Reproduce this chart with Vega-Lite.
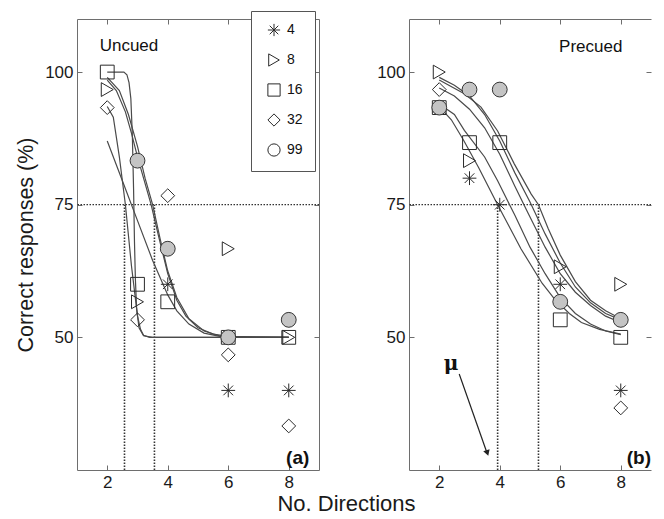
{
  "$schema": "https://vega.github.io/schema/vega-lite/v6.json",
  "background": "white",
  "padding": {"left": 15, "top": 10, "right": 5, "bottom": 2},
  "bounds": "flush",
  "spacing": 90,
  "config": {
    "view": {"stroke": null},
    "font": "Liberation Sans",
    "axis": {
      "labelFont": "Liberation Sans", "labelFontSize": 17, "labelColor": "#1a1a1a",
      "domainColor": "#6e6e6e", "tickColor": "#6e6e6e", "tickSize": -5, "grid": false,
      "labelPadding": 9, "titleFont": "Liberation Sans", "titleFontWeight": "normal",
      "titleColor": "#1a1a1a", "titleFontSize": 22
    }
  },
  "datasets": {
    "pts": [
      {"cond": "Uncued", "n": "4", "dir": 4, "pc": 60}, {"cond": "Uncued", "n": "4", "dir": 6, "pc": 40}, {"cond": "Uncued", "n": "4", "dir": 8, "pc": 40},
      {"cond": "Uncued", "n": "8", "dir": 2, "pc": 96.7}, {"cond": "Uncued", "n": "8", "dir": 3, "pc": 56.7}, {"cond": "Uncued", "n": "8", "dir": 6, "pc": 66.7}, {"cond": "Uncued", "n": "8", "dir": 8, "pc": 50},
      {"cond": "Uncued", "n": "16", "dir": 2, "pc": 100}, {"cond": "Uncued", "n": "16", "dir": 3, "pc": 60}, {"cond": "Uncued", "n": "16", "dir": 4, "pc": 56.7}, {"cond": "Uncued", "n": "16", "dir": 6, "pc": 50}, {"cond": "Uncued", "n": "16", "dir": 8, "pc": 50},
      {"cond": "Uncued", "n": "32", "dir": 2, "pc": 93.3}, {"cond": "Uncued", "n": "32", "dir": 3, "pc": 53.3}, {"cond": "Uncued", "n": "32", "dir": 4, "pc": 76.7}, {"cond": "Uncued", "n": "32", "dir": 6, "pc": 46.7}, {"cond": "Uncued", "n": "32", "dir": 8, "pc": 33.3},
      {"cond": "Uncued", "n": "99", "dir": 3, "pc": 83.3}, {"cond": "Uncued", "n": "99", "dir": 4, "pc": 66.7}, {"cond": "Uncued", "n": "99", "dir": 6, "pc": 50}, {"cond": "Uncued", "n": "99", "dir": 8, "pc": 53.3},
      {"cond": "Precued", "n": "4", "dir": 3, "pc": 80}, {"cond": "Precued", "n": "4", "dir": 4, "pc": 75}, {"cond": "Precued", "n": "4", "dir": 6, "pc": 60}, {"cond": "Precued", "n": "4", "dir": 8, "pc": 40},
      {"cond": "Precued", "n": "8", "dir": 2, "pc": 100}, {"cond": "Precued", "n": "8", "dir": 3, "pc": 83.3}, {"cond": "Precued", "n": "8", "dir": 6, "pc": 63.3}, {"cond": "Precued", "n": "8", "dir": 8, "pc": 60},
      {"cond": "Precued", "n": "16", "dir": 2, "pc": 93.3}, {"cond": "Precued", "n": "16", "dir": 3, "pc": 86.7}, {"cond": "Precued", "n": "16", "dir": 4, "pc": 86.7}, {"cond": "Precued", "n": "16", "dir": 6, "pc": 53.3}, {"cond": "Precued", "n": "16", "dir": 8, "pc": 50},
      {"cond": "Precued", "n": "32", "dir": 2, "pc": 96.7}, {"cond": "Precued", "n": "32", "dir": 8, "pc": 36.7},
      {"cond": "Precued", "n": "99", "dir": 2, "pc": 93.3}, {"cond": "Precued", "n": "99", "dir": 3, "pc": 96.7}, {"cond": "Precued", "n": "99", "dir": 4, "pc": 96.7}, {"cond": "Precued", "n": "99", "dir": 6, "pc": 56.7}, {"cond": "Precued", "n": "99", "dir": 8, "pc": 53.3}
    ],
    "fits": [
      {"cond": "Uncued", "n": "16", "dir": 2, "pc": 100}, {"cond": "Uncued", "n": "16", "dir": 2.55, "pc": 100}, {"cond": "Uncued", "n": "16", "dir": 2.65, "pc": 99.5}, {"cond": "Uncued", "n": "16", "dir": 2.72, "pc": 98}, {"cond": "Uncued", "n": "16", "dir": 2.78, "pc": 95}, {"cond": "Uncued", "n": "16", "dir": 2.83, "pc": 88}, {"cond": "Uncued", "n": "16", "dir": 2.87, "pc": 78}, {"cond": "Uncued", "n": "16", "dir": 2.9, "pc": 68}, {"cond": "Uncued", "n": "16", "dir": 2.93, "pc": 61}, {"cond": "Uncued", "n": "16", "dir": 2.97, "pc": 55.5}, {"cond": "Uncued", "n": "16", "dir": 3.05, "pc": 51.8}, {"cond": "Uncued", "n": "16", "dir": 3.2, "pc": 50.3}, {"cond": "Uncued", "n": "16", "dir": 3.5, "pc": 50}, {"cond": "Uncued", "n": "16", "dir": 8, "pc": 50},
      {"cond": "Uncued", "n": "32", "dir": 2, "pc": 93.5}, {"cond": "Uncued", "n": "32", "dir": 2.2, "pc": 91.5}, {"cond": "Uncued", "n": "32", "dir": 2.4, "pc": 84}, {"cond": "Uncued", "n": "32", "dir": 2.6, "pc": 75}, {"cond": "Uncued", "n": "32", "dir": 2.8, "pc": 63.5}, {"cond": "Uncued", "n": "32", "dir": 3.0, "pc": 54}, {"cond": "Uncued", "n": "32", "dir": 3.1, "pc": 51.5}, {"cond": "Uncued", "n": "32", "dir": 3.2, "pc": 50.4}, {"cond": "Uncued", "n": "32", "dir": 3.4, "pc": 50}, {"cond": "Uncued", "n": "32", "dir": 8, "pc": 50},
      {"cond": "Uncued", "n": "99", "dir": 2, "pc": 98.5}, {"cond": "Uncued", "n": "99", "dir": 2.3, "pc": 96.5}, {"cond": "Uncued", "n": "99", "dir": 2.6, "pc": 92.5}, {"cond": "Uncued", "n": "99", "dir": 2.8, "pc": 88.5}, {"cond": "Uncued", "n": "99", "dir": 3.0, "pc": 84}, {"cond": "Uncued", "n": "99", "dir": 3.2, "pc": 80}, {"cond": "Uncued", "n": "99", "dir": 3.45, "pc": 75}, {"cond": "Uncued", "n": "99", "dir": 3.7, "pc": 69}, {"cond": "Uncued", "n": "99", "dir": 4.0, "pc": 62}, {"cond": "Uncued", "n": "99", "dir": 4.3, "pc": 57}, {"cond": "Uncued", "n": "99", "dir": 4.6, "pc": 54}, {"cond": "Uncued", "n": "99", "dir": 5.0, "pc": 51.8}, {"cond": "Uncued", "n": "99", "dir": 5.5, "pc": 50.6}, {"cond": "Uncued", "n": "99", "dir": 6, "pc": 50.2}, {"cond": "Uncued", "n": "99", "dir": 8, "pc": 50},
      {"cond": "Uncued", "n": "8", "dir": 2, "pc": 99}, {"cond": "Uncued", "n": "8", "dir": 2.4, "pc": 96.5}, {"cond": "Uncued", "n": "8", "dir": 2.7, "pc": 92}, {"cond": "Uncued", "n": "8", "dir": 3.0, "pc": 86}, {"cond": "Uncued", "n": "8", "dir": 3.25, "pc": 80}, {"cond": "Uncued", "n": "8", "dir": 3.5, "pc": 75}, {"cond": "Uncued", "n": "8", "dir": 3.75, "pc": 68.5}, {"cond": "Uncued", "n": "8", "dir": 4.0, "pc": 62.5}, {"cond": "Uncued", "n": "8", "dir": 4.3, "pc": 57.5}, {"cond": "Uncued", "n": "8", "dir": 4.7, "pc": 53.5}, {"cond": "Uncued", "n": "8", "dir": 5.2, "pc": 51.2}, {"cond": "Uncued", "n": "8", "dir": 5.7, "pc": 50.3}, {"cond": "Uncued", "n": "8", "dir": 6.2, "pc": 50}, {"cond": "Uncued", "n": "8", "dir": 8, "pc": 50},
      {"cond": "Uncued", "n": "4", "dir": 2, "pc": 87}, {"cond": "Uncued", "n": "4", "dir": 2.5, "pc": 79.5}, {"cond": "Uncued", "n": "4", "dir": 3.0, "pc": 72}, {"cond": "Uncued", "n": "4", "dir": 3.5, "pc": 64.5}, {"cond": "Uncued", "n": "4", "dir": 4.0, "pc": 58}, {"cond": "Uncued", "n": "4", "dir": 4.3, "pc": 55}, {"cond": "Uncued", "n": "4", "dir": 4.7, "pc": 52.5}, {"cond": "Uncued", "n": "4", "dir": 5.2, "pc": 50.8}, {"cond": "Uncued", "n": "4", "dir": 5.8, "pc": 50.1}, {"cond": "Uncued", "n": "4", "dir": 8, "pc": 50},
      {"cond": "Precued", "n": "4", "dir": 2, "pc": 93.5}, {"cond": "Precued", "n": "4", "dir": 2.4, "pc": 91}, {"cond": "Precued", "n": "4", "dir": 2.8, "pc": 87.2}, {"cond": "Precued", "n": "4", "dir": 3.3, "pc": 82}, {"cond": "Precued", "n": "4", "dir": 3.93, "pc": 75}, {"cond": "Precued", "n": "4", "dir": 4.7, "pc": 66.7}, {"cond": "Precued", "n": "4", "dir": 5.4, "pc": 60.2}, {"cond": "Precued", "n": "4", "dir": 5.8, "pc": 57.3}, {"cond": "Precued", "n": "4", "dir": 6.3, "pc": 54.5}, {"cond": "Precued", "n": "4", "dir": 6.7, "pc": 52.8}, {"cond": "Precued", "n": "4", "dir": 7.3, "pc": 51.5}, {"cond": "Precued", "n": "4", "dir": 8, "pc": 50.6},
      {"cond": "Precued", "n": "16", "dir": 2, "pc": 94}, {"cond": "Precued", "n": "16", "dir": 2.5, "pc": 92}, {"cond": "Precued", "n": "16", "dir": 2.83, "pc": 89}, {"cond": "Precued", "n": "16", "dir": 3.5, "pc": 84}, {"cond": "Precued", "n": "16", "dir": 3.93, "pc": 79.5}, {"cond": "Precued", "n": "16", "dir": 4.5, "pc": 73}, {"cond": "Precued", "n": "16", "dir": 5.0, "pc": 67}, {"cond": "Precued", "n": "16", "dir": 5.5, "pc": 62}, {"cond": "Precued", "n": "16", "dir": 6.0, "pc": 57.5}, {"cond": "Precued", "n": "16", "dir": 6.5, "pc": 54.5}, {"cond": "Precued", "n": "16", "dir": 7.0, "pc": 52.5}, {"cond": "Precued", "n": "16", "dir": 7.5, "pc": 51.2}, {"cond": "Precued", "n": "16", "dir": 8, "pc": 50.5},
      {"cond": "Precued", "n": "32", "dir": 2, "pc": 97}, {"cond": "Precued", "n": "32", "dir": 2.5, "pc": 95.5}, {"cond": "Precued", "n": "32", "dir": 3.0, "pc": 93}, {"cond": "Precued", "n": "32", "dir": 3.5, "pc": 89.5}, {"cond": "Precued", "n": "32", "dir": 4.0, "pc": 84.5}, {"cond": "Precued", "n": "32", "dir": 4.5, "pc": 78.5}, {"cond": "Precued", "n": "32", "dir": 4.93, "pc": 73.5}, {"cond": "Precued", "n": "32", "dir": 5.5, "pc": 67}, {"cond": "Precued", "n": "32", "dir": 6.0, "pc": 62}, {"cond": "Precued", "n": "32", "dir": 6.5, "pc": 58.5}, {"cond": "Precued", "n": "32", "dir": 7.0, "pc": 56}, {"cond": "Precued", "n": "32", "dir": 7.5, "pc": 54}, {"cond": "Precued", "n": "32", "dir": 8, "pc": 52.8},
      {"cond": "Precued", "n": "8", "dir": 2, "pc": 98.5}, {"cond": "Precued", "n": "8", "dir": 2.83, "pc": 95.9}, {"cond": "Precued", "n": "8", "dir": 3.38, "pc": 93.4}, {"cond": "Precued", "n": "8", "dir": 3.93, "pc": 88.9}, {"cond": "Precued", "n": "8", "dir": 4.48, "pc": 82.7}, {"cond": "Precued", "n": "8", "dir": 5.04, "pc": 77}, {"cond": "Precued", "n": "8", "dir": 5.28, "pc": 75}, {"cond": "Precued", "n": "8", "dir": 5.6, "pc": 70.5}, {"cond": "Precued", "n": "8", "dir": 6.0, "pc": 65.5}, {"cond": "Precued", "n": "8", "dir": 6.5, "pc": 60.5}, {"cond": "Precued", "n": "8", "dir": 7.0, "pc": 57}, {"cond": "Precued", "n": "8", "dir": 7.5, "pc": 55}, {"cond": "Precued", "n": "8", "dir": 8, "pc": 53.5},
      {"cond": "Precued", "n": "99", "dir": 2, "pc": 99}, {"cond": "Precued", "n": "99", "dir": 2.5, "pc": 97.5}, {"cond": "Precued", "n": "99", "dir": 3.0, "pc": 95.5}, {"cond": "Precued", "n": "99", "dir": 3.5, "pc": 92}, {"cond": "Precued", "n": "99", "dir": 4.0, "pc": 87}, {"cond": "Precued", "n": "99", "dir": 4.5, "pc": 81}, {"cond": "Precued", "n": "99", "dir": 5.0, "pc": 75.5}, {"cond": "Precued", "n": "99", "dir": 5.5, "pc": 69.5}, {"cond": "Precued", "n": "99", "dir": 6.0, "pc": 64}, {"cond": "Precued", "n": "99", "dir": 6.5, "pc": 59.5}, {"cond": "Precued", "n": "99", "dir": 7.0, "pc": 56.5}, {"cond": "Precued", "n": "99", "dir": 7.5, "pc": 54.5}, {"cond": "Precued", "n": "99", "dir": 8, "pc": 53.3}
    ],
    "thr": [
      {"cond": "Uncued", "dir": 2.57}, {"cond": "Uncued", "dir": 3.56},
      {"cond": "Precued", "dir": 3.93}, {"cond": "Precued", "dir": 5.28}
    ]
  },
  "hconcat": [
    {
      "width": 242, "height": 451,
      "layer": [
        {
          "data": {"values": [{"level": 75}]},
          "mark": {"type": "rule", "strokeDash": [1.5, 1.5], "color": "#333", "strokeWidth": 1.3},
          "encoding": {
            "y": {"field": "level", "type": "quantitative", "scale": {"domain": [25, 110], "nice": false, "zero": false},
                  "axis": {"orient": "right", "labels": false, "values": [50, 75, 100], "title": null}}
          }
        },
        {
          "data": {"name": "thr"},
          "transform": [{"filter": "datum.cond === 'Uncued'"}],
          "mark": {"type": "rule", "strokeDash": [1.5, 1.5], "color": "#333", "strokeWidth": 1.6},
          "encoding": {
            "x": {"field": "dir", "type": "quantitative", "scale": {"domain": [1, 9], "nice": false, "zero": false},
                  "axis": {"orient": "top", "labels": false, "values": [2, 4, 6, 8], "title": null}},
            "y": {"datum": 25, "type": "quantitative", "axis": null},
            "y2": {"datum": 75}
          }
        },
        {
          "data": {"name": "fits"},
          "transform": [{"filter": "datum.cond === 'Uncued'"}],
          "mark": {"type": "line", "color": "#4a4a4a", "strokeWidth": 1.2},
          "encoding": {
            "x": {"field": "dir", "type": "quantitative", "scale": {"domain": [1, 9], "nice": false, "zero": false},
                  "axis": {"orient": "bottom", "values": [2, 4, 6, 8], "title": "No. Directions", "titleX": 269, "titleY": 23, "titleBaseline": "top", "titleAnchor": null, "titleAlign": "center"}},
            "y": {"field": "pc", "type": "quantitative", "scale": {"domain": [25, 110], "nice": false, "zero": false},
                  "axis": {"orient": "left", "values": [50, 75, 100], "title": "Correct responses (%)", "titleFontSize": 21.5, "titlePadding": 7}},
            "detail": {"field": "n"}
          }
        },
        {
          "data": {"name": "pts"},
          "transform": [{"filter": "datum.cond === 'Uncued'"}],
          "mark": {"type": "point", "filled": false, "strokeWidth": 1, "size": 190, "opacity": 1, "color": "#2a2a2a"},
          "encoding": {
            "x": {"field": "dir", "type": "quantitative", "axis": null},
            "y": {"field": "pc", "type": "quantitative", "axis": null},
            "shape": {"field": "n", "type": "nominal",
              "scale": {"domain": ["4", "8", "16", "32", "99"], "range": ["M-1,0L1,0M0,-1L0,1M-0.7,-0.7L0.7,0.7M-0.7,0.7L0.7,-0.7", "triangle-right", "square", "diamond", "circle"]},
              "legend": {"orient": "none", "legendX": 174, "legendY": -8, "title": null, "strokeColor": "#555", "fillColor": "white", "padding": 12, "rowPadding": 12, "labelFontSize": 14, "labelOffset": 6, "symbolOffset": 4, "symbolSize": 150, "symbolStrokeWidth": 1, "labelFont": "Liberation Sans", "labelColor": "#111"}}
          }
        },
        {
          "data": {"name": "pts"},
          "transform": [{"filter": "datum.cond === 'Uncued' && datum.n === '99'"}],
          "mark": {"type": "point", "shape": "circle", "filled": true, "fill": "#c4c4c4", "stroke": "#3a3a3a", "strokeWidth": 1, "size": 220, "opacity": 1},
          "encoding": {
            "x": {"field": "dir", "type": "quantitative", "axis": null},
            "y": {"field": "pc", "type": "quantitative", "axis": null}
          }
        },
        {
          "data": {"values": [{"label": "Uncued"}]},
          "mark": {"type": "text", "align": "left", "baseline": "alphabetic", "fontSize": 17, "font": "Liberation Sans", "color": "#111"},
          "encoding": {"text": {"field": "label"}, "x": {"datum": 1.75, "type": "quantitative", "axis": null}, "y": {"datum": 104, "type": "quantitative", "axis": null}}
        },
        {
          "data": {"values": [{"label": "(a)"}]},
          "mark": {"type": "text", "align": "right", "baseline": "alphabetic", "fontSize": 19, "fontWeight": "bold", "font": "Liberation Sans", "color": "#111"},
          "encoding": {"text": {"field": "label"}, "x": {"datum": 8.68, "type": "quantitative", "axis": null}, "y": {"datum": 26.2, "type": "quantitative", "axis": null}}
        }
      ]
    },
    {
      "width": 242, "height": 451,
      "layer": [
        {
          "data": {"values": [{"level": 75}]},
          "mark": {"type": "rule", "strokeDash": [1.5, 1.5], "color": "#333", "strokeWidth": 1.3},
          "encoding": {
            "y": {"field": "level", "type": "quantitative", "scale": {"domain": [25, 110], "nice": false, "zero": false},
                  "axis": {"orient": "right", "labels": false, "domain": false, "values": [50, 75, 100], "title": null}}
          }
        },
        {
          "data": {"name": "thr"},
          "transform": [{"filter": "datum.cond === 'Precued'"}],
          "mark": {"type": "rule", "strokeDash": [1.5, 1.5], "color": "#333", "strokeWidth": 1.6},
          "encoding": {
            "x": {"field": "dir", "type": "quantitative", "scale": {"domain": [1, 9], "nice": false, "zero": false},
                  "axis": {"orient": "top", "labels": false, "values": [2, 4, 6, 8], "title": null}},
            "y": {"datum": 25, "type": "quantitative", "axis": null},
            "y2": {"datum": 75}
          }
        },
        {
          "data": {"name": "fits"},
          "transform": [{"filter": "datum.cond === 'Precued'"}],
          "mark": {"type": "line", "color": "#4a4a4a", "strokeWidth": 1.2},
          "encoding": {
            "x": {"field": "dir", "type": "quantitative", "scale": {"domain": [1, 9], "nice": false, "zero": false},
                  "axis": {"orient": "bottom", "values": [2, 4, 6, 8], "title": null}},
            "y": {"field": "pc", "type": "quantitative", "scale": {"domain": [25, 110], "nice": false, "zero": false},
                  "axis": {"orient": "left", "values": [50, 75, 100], "title": null}},
            "detail": {"field": "n"}
          }
        },
        {
          "data": {"name": "pts"},
          "transform": [{"filter": "datum.cond === 'Precued'"}],
          "mark": {"type": "point", "filled": false, "strokeWidth": 1, "size": 190, "opacity": 1, "color": "#2a2a2a"},
          "encoding": {
            "x": {"field": "dir", "type": "quantitative", "axis": null},
            "y": {"field": "pc", "type": "quantitative", "axis": null},
            "shape": {"field": "n", "type": "nominal",
              "scale": {"domain": ["4", "8", "16", "32", "99"], "range": ["M-1,0L1,0M0,-1L0,1M-0.7,-0.7L0.7,0.7M-0.7,0.7L0.7,-0.7", "triangle-right", "square", "diamond", "circle"]},
              "legend": null}
          }
        },
        {
          "data": {"name": "pts"},
          "transform": [{"filter": "datum.cond === 'Precued' && datum.n === '99'"}],
          "mark": {"type": "point", "shape": "circle", "filled": true, "fill": "#c4c4c4", "stroke": "#3a3a3a", "strokeWidth": 1, "size": 220, "opacity": 1},
          "encoding": {
            "x": {"field": "dir", "type": "quantitative", "axis": null},
            "y": {"field": "pc", "type": "quantitative", "axis": null}
          }
        },
        {
          "data": {"values": [{"label": "Precued"}]},
          "mark": {"type": "text", "align": "left", "baseline": "alphabetic", "fontSize": 17, "font": "Liberation Sans", "color": "#111"},
          "encoding": {"text": {"field": "label"}, "x": {"datum": 5.96, "type": "quantitative", "axis": null}, "y": {"datum": 103.8, "type": "quantitative", "axis": null}}
        },
        {
          "data": {"values": [{"label": "(b)"}]},
          "mark": {"type": "text", "align": "right", "baseline": "alphabetic", "fontSize": 19, "fontWeight": "bold", "font": "Liberation Sans", "color": "#111"},
          "encoding": {"text": {"field": "label"}, "x": {"datum": 9.0, "type": "quantitative", "axis": null}, "y": {"datum": 26.2, "type": "quantitative", "axis": null}}
        },
        {
          "data": {"values": [{"label": "μ"}]},
          "mark": {"type": "text", "align": "center", "baseline": "alphabetic", "fontSize": 20, "fontWeight": "bold", "font": "DejaVu Serif", "color": "#111"},
          "encoding": {"text": {"field": "label"}, "x": {"datum": 2.39, "type": "quantitative", "axis": null}, "y": {"datum": 43.9, "type": "quantitative", "axis": null}}
        },
        {
          "data": {"values": [{"label": "arrow"}]},
          "mark": {"type": "rule", "color": "#222", "strokeWidth": 1.2},
          "encoding": {"x": {"datum": 2.66, "type": "quantitative", "axis": null}, "y": {"datum": 43.1, "type": "quantitative", "axis": null}, "x2": {"datum": 3.58}, "y2": {"datum": 28.2}}
        },
        {
          "data": {"values": [{"label": "arrowhead"}]},
          "mark": {"type": "point", "shape": "triangle-down", "filled": true, "color": "#222", "size": 45, "angle": 341, "opacity": 1},
          "encoding": {"x": {"datum": 3.59, "type": "quantitative", "axis": null}, "y": {"datum": 28.2, "type": "quantitative", "axis": null}}
        }
      ]
    }
  ]
}
